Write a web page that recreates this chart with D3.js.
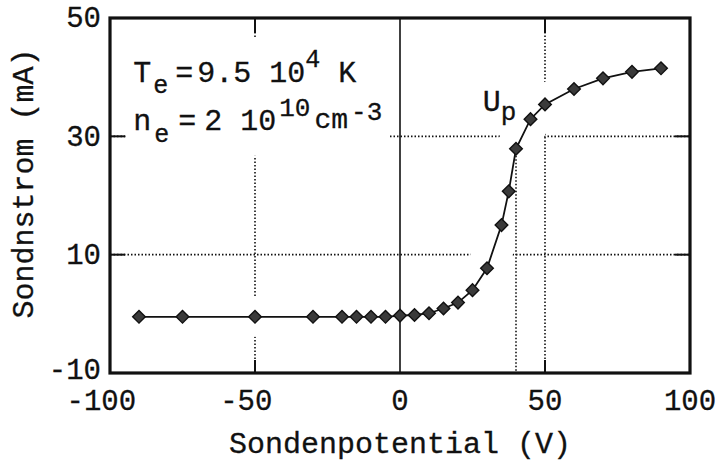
<!DOCTYPE html>
<html>
<head>
  <meta charset="utf-8">
  <script src="https://d3js.org/d3.v7.min.js"></script>
  <style>
    body{
      margin: 0;
      background: #ffffff;
    }
    text{
      font-family: "Liberation Mono", "Courier New", monospace;
      font-size: 30px;
      fill: #111111;
      stroke: #111111;
      stroke-width: 0.3px;
    }
    text.tickLabel{
      font-size: 29px;
    }
    line.grid{
      stroke: #111111;
      stroke-width: 1.6;
      stroke-dasharray: 1.5,2;
    }
    line.tick{
      stroke: #111111;
      stroke-width: 2;
    }
  </style>
</head>

<body>
  <script>

  var width = 721;
  var height = 464;
  const margin = {top: 18, right: 31, bottom: 91, left: 110};

  // probe voltage (V) and probe current (mA)
  const voltage = [-90, -75, -50, -30, -20, -15, -10, -5, 0, 5, 10, 15, 20, 25, 30, 35, 37.5, 40, 45, 50, 60, 70, 80, 90];
  const current = [-0.5, -0.5, -0.5, -0.5, -0.5, -0.5, -0.5, -0.5, -0.3, -0.2, 0.1, 0.9, 1.9, 4.0, 7.7, 15.0, 20.7, 27.9, 32.9, 35.4, 38.0, 39.8, 40.9, 41.5];

  const xTicks = [-100, -50, 0, 50, 100];
  const yTicks = [-10, 10, 30, 50];
  const xGrid = [-50, 50];
  const yGrid = [10, 30];
  const upVoltage = 40;   // plasma potential U_p

  const data = voltage.map((v, i) => ({v: v, c: current[i]}));

  var svg = d3.select('body').append('svg')
    .attr('width', width)
    .attr('height', height);

  let x = d3.scaleLinear()
    .domain([-100, 100])
    .range([margin.left, width - margin.right]);

  let y = d3.scaleLinear()
    .domain([-10, 50])
    .range([height - margin.bottom, margin.top]);

  // dotted grid
  svg.append('g').selectAll('line.vgrid')
    .data(xGrid)
    .enter().append('line')
    .attr('class', 'grid')
    .attr('x1', d => x(d)).attr('x2', d => x(d))
    .attr('y1', y(50)).attr('y2', y(-10));

  svg.append('g').selectAll('line.hgrid')
    .data(yGrid)
    .enter().append('line')
    .attr('class', 'grid')
    .attr('x1', x(-100)).attr('x2', x(100))
    .attr('y1', d => y(d)).attr('y2', d => y(d));

  // annotation block, with a white patch that breaks the grid
  let anno = svg.append('g');

  let t1 = anno.append('text')
    .attr('x', x(-92))
    .attr('y', y(39.2));
  t1.append('tspan').text('T');
  t1.append('tspan').attr('font-size', 25).attr('dy', 11).attr('dx', 2).text('e');
  t1.append('tspan').attr('dy', -11).attr('dx', 7).text('=');
  t1.append('tspan').attr('dx', 4).text('9.5 10');
  t1.append('tspan').attr('font-size', 25).attr('dy', -15).text('4');
  t1.append('tspan').attr('dy', 15).text(' K');

  let t2 = anno.append('text')
    .attr('x', x(-92))
    .attr('y', y(31.1));
  t2.append('tspan').text('n');
  t2.append('tspan').attr('font-size', 25).attr('dy', 12).attr('dx', 3).text('e');
  t2.append('tspan').attr('dy', -12).attr('dx', 9).text('=');
  t2.append('tspan').attr('dx', 8).text('2 10');
  t2.append('tspan').attr('font-size', 26).attr('dy', -14).attr('dx', 3).text('10');
  t2.append('tspan').attr('font-size', 28).attr('dy', 12).attr('dx', 4).text('cm');
  t2.append('tspan').attr('font-size', 26).attr('dy', -8).attr('dx', 3).text('-3');

  let bb = anno.node().getBBox();
  anno.insert('rect', 'text')
    .attr('x', bb.x - 7)
    .attr('y', bb.y - 8)
    .attr('width', bb.width + 14)
    .attr('height', bb.height + 14)
    .style('fill', '#ffffff');

  let line = d3.line()
    .x(d => x(d.v))
    .y(d => y(d.c));

  // white halo round the curve, the grid stops short of it
  svg.append('path')
    .datum(data)
    .attr('d', line)
    .style('fill', 'none')
    .style('stroke', '#ffffff')
    .style('stroke-width', 40)
    .style('stroke-linecap', 'round')
    .style('stroke-linejoin', 'round');

  // solid zero line
  svg.append('line')
    .attr('x1', x(0)).attr('x2', x(0))
    .attr('y1', y(50)).attr('y2', y(-10))
    .style('stroke', '#111111')
    .style('stroke-width', 1.6);

  // dotted drop line at U_p
  let upPoint = data.find(d => d.v == upVoltage);
  svg.append('line')
    .attr('class', 'grid')
    .attr('x1', x(upVoltage)).attr('x2', x(upVoltage))
    .attr('y1', y(upPoint.c)).attr('y2', y(-10));

  // inward ticks
  let ticks = svg.append('g');
  xGrid.forEach(d => {
    ticks.append('line').attr('class', 'tick')
      .attr('x1', x(d)).attr('x2', x(d))
      .attr('y1', y(50)).attr('y2', y(50) + 15);
    ticks.append('line').attr('class', 'tick')
      .attr('x1', x(d)).attr('x2', x(d))
      .attr('y1', y(-10)).attr('y2', y(-10) - 13);
  });
  yGrid.forEach(d => {
    ticks.append('line').attr('class', 'tick')
      .attr('x1', x(-100)).attr('x2', x(-100) + 15)
      .attr('y1', y(d)).attr('y2', y(d));
    ticks.append('line').attr('class', 'tick')
      .attr('x1', x(100)).attr('x2', x(100) - 15)
      .attr('y1', y(d)).attr('y2', y(d));
  });

  // frame
  svg.append('rect')
    .attr('x', x(-100))
    .attr('y', y(50))
    .attr('width', x(100) - x(-100))
    .attr('height', y(-10) - y(50))
    .style('fill', 'none')
    .style('stroke', '#111111')
    .style('stroke-width', 3.2);

  // curve and markers
  svg.append('path')
    .datum(data)
    .attr('d', line)
    .style('fill', 'none')
    .style('stroke', '#111111')
    .style('stroke-width', 1.8);

  svg.selectAll('path.marker')
    .data(data)
    .enter().append('path')
    .attr('class', 'marker')
    .attr('d', d3.symbol().type(d3.symbolSquare).size(80))
    .attr('transform', d => `translate(${x(d.v)},${y(d.c)}) rotate(45)`)
    .style('fill', '#3a3a3a')
    .style('stroke', '#111111')
    .style('stroke-width', 1.4);

  // U_p label
  let up = svg.append('text')
    .attr('x', x(28.5))
    .attr('y', y(34.2));
  up.append('tspan').text('U');
  up.append('tspan').attr('font-size', 26).attr('dy', 9).text('p');

  // tick labels
  svg.selectAll('text.xLabel')
    .data(xTicks)
    .enter().append('text')
    .attr('class', 'tickLabel xLabel')
    .attr('x', d => x(d))
    .attr('y', y(-10) + 37)
    .attr('dx', d => d < 0 ? '-0.3em' : 0)
    .style('text-anchor', 'middle')
    .text(d => d);

  svg.selectAll('text.yLabel')
    .data(yTicks)
    .enter().append('text')
    .attr('class', 'tickLabel yLabel')
    .attr('x', x(-100) - 9)
    .attr('y', d => y(d))
    .attr('dy', d => d < 0 ? '0.2em' : '0.32em')
    .style('text-anchor', 'end')
    .text(d => d);

  // axis titles
  svg.append('text')
    .attr('x', (x(-100) + x(100)) / 2)
    .attr('y', height - 11)
    .style('text-anchor', 'middle')
    .text('Sondenpotential (V)');

  svg.append('text')
    .attr('transform', `translate(33,${(y(50) + y(-10)) / 2 - 12}) rotate(-90)`)
    .style('text-anchor', 'middle')
    .text('Sondnstrom (mA)');

  </script>
</body>
</html>
